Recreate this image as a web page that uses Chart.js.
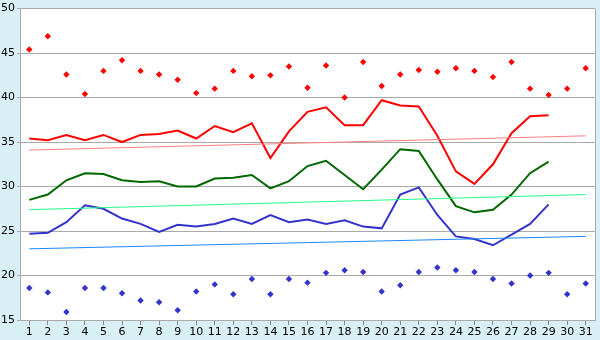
<!DOCTYPE html>
<html>
<head>
<meta charset="utf-8">
<script src="https://cdn.jsdelivr.net/npm/chart.js@4/dist/chart.umd.min.js"></script>
<style>
  html, body { margin: 0; padding: 0; background: #d9eff6; }
  #wrap { width: 600px; height: 340px; position: relative; }
</style>
</head>
<body>
<div id="wrap"><canvas id="grafico"></canvas></div>
<script>
// dias del mes
const dias = ["1","2","3","4","5","6","7","8","9","10","11","12","13","14","15","16",
  "17","18","19","20","21","22","23","24","25","26","27","28","29","30","31"];

// puntos sueltos (maximos y minimos)
const maximos = [45.4, 46.9, 42.6, 40.4, 43.0, 44.2, 43.0, 42.6, 42.0, 40.5,
  41.0, 43.0, 42.4, 42.5, 43.5, 41.1, 43.6, 40.0, 44.0, 41.3,
  42.6, 43.1, 42.9, 43.3, 43.0, 42.3, 44.0, 41.0, 40.3, 41.0, 43.3];
const minimos = [18.6, 18.1, 15.9, 18.6, 18.6, 18.0, 17.2, 17.0, 16.1, 18.2,
  19.0, 17.9, 19.6, 17.9, 19.6, 19.2, 20.3, 20.6, 20.4, 18.2,
  18.9, 20.4, 20.9, 20.6, 20.4, 19.6, 19.1, 20.0, 20.3, 17.9, 19.1];

// lineas
const serieRoja = [35.4, 35.2, 35.8, 35.2, 35.8, 35.0, 35.8, 35.9, 36.3, 35.4,
  36.8, 36.1, 37.1, 33.2, 36.2, 38.4, 38.9, 36.9, 36.9, 39.7,
  39.1, 39.0, 35.7, 31.7, 30.3, 32.5, 36.0, 37.9, 38.0, null, null];
const serieVerde = [28.5, 29.1, 30.7, 31.5, 31.4, 30.7, 30.5, 30.6, 30.0, 30.0,
  30.9, 31.0, 31.3, 29.8, 30.6, 32.3, 32.9, 31.3, 29.7, 31.9,
  34.2, 34.0, 30.8, 27.8, 27.1, 27.4, 29.1, 31.5, 32.8, null, null];
const serieAzul = [24.7, 24.8, 26.0, 27.9, 27.5, 26.4, 25.8, 24.9, 25.7, 25.5,
  25.8, 26.4, 25.8, 26.8, 26.0, 26.3, 25.8, 26.2, 25.5, 25.3,
  29.1, 29.9, 26.8, 24.4, 24.1, 23.4, 24.6, 25.8, 28.0, null, null];

// tendencias (inicio y fin)
const tendRoja = [34.1, 35.7];
const tendVerde = [27.4, 29.1];
const tendAzul = [23.0, 24.4];

const ticksY = [15, 20, 25, 30, 35, 40, 45, 50];

function extremos(par){
  const d = dias.map(() => null);
  d[0] = par[0];
  d[d.length - 1] = par[1];
  return d;
}

const fondo = {
  id: "fondo",
  beforeDraw(chart){
    const c = chart.ctx, a = chart.chartArea;
    c.save();
    c.fillStyle = "#d9eff6";
    c.fillRect(0, 0, chart.width, chart.height);
    c.fillStyle = "#ffffff";
    c.fillRect(a.left, a.top, a.right - a.left, a.bottom - a.top);
    c.restore();
  },
  afterDraw(chart){
    const c = chart.ctx, a = chart.chartArea;
    c.save();
    c.strokeStyle = "#aaaaaa";
    c.lineWidth = 1;
    c.beginPath();
    c.moveTo(Math.round(a.right) + 0.5, a.top);
    c.lineTo(Math.round(a.right) + 0.5, a.bottom);
    c.stroke();
    c.restore();
  }
};

function linea(datos, color, ancho){
  return {
    type: "line",
    data: datos,
    borderColor: color,
    borderWidth: ancho,
    pointRadius: 0,
    tension: 0,
    fill: false,
    spanGaps: true
  };
}

function puntos(datos, color){
  return {
    type: "line",
    data: datos,
    showLine: false,
    borderColor: color,
    backgroundColor: color,
    pointStyle: "rectRot",
    pointRadius: 3.2,
    borderWidth: 0
  };
}

new Chart(document.getElementById("grafico"), {
  type: "line",
  data: {
    labels: dias,
    datasets: [
      linea(extremos(tendRoja), "#ff8080", 1),
      linea(extremos(tendVerde), "#22ff88", 1),
      linea(extremos(tendAzul), "#1a88ff", 1),
      linea(serieRoja, "#ff0000", 2),
      linea(serieVerde, "#006600", 2),
      linea(serieAzul, "#3333cc", 2),
      puntos(maximos, "#ff0000"),
      puntos(minimos, "#3333cc")
    ]
  },
  options: {
    responsive: true,
    maintainAspectRatio: false,
    animation: false,
    layout: { padding: { top: 5, right: 5, left: 0, bottom: 0 } },
    plugins: {
      legend: { display: false },
      tooltip: { enabled: false }
    },
    scales: {
      x: {
        offset: true,
        afterFit: function(scale){ scale.height = 20; },
        grid: {
          drawOnChartArea: false,
          drawTicks: true,
          tickLength: 5,
          color: "#888888",
          offset: false
        },
        border: { color: "#aaaaaa" },
        ticks: {
          autoSkip: false,
          maxRotation: 0,
          padding: 1,
          color: "#000000",
          font: { family: "DejaVu Sans", size: 11 }
        }
      },
      y: {
        min: 15,
        max: 50,
        afterFit: function(scale){ scale.width = 20; },
        afterBuildTicks: function(scale){
          scale.ticks = ticksY.map(v => ({ value: v }));
        },
        grid: {
          color: "#aaaaaa",
          tickLength: 3
        },
        border: { color: "#aaaaaa" },
        ticks: {
          padding: 2,
          color: "#000000",
          font: { family: "DejaVu Sans", size: 11 }
        }
      }
    }
  },
  plugins: [fondo]
});
</script>
</body>
</html>
